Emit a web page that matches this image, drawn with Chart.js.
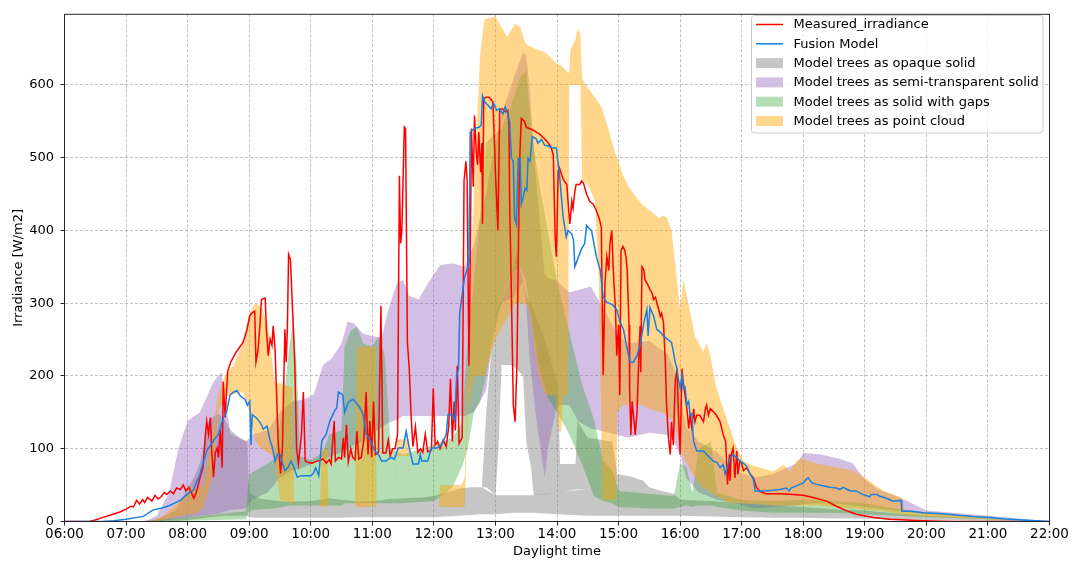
<!DOCTYPE html>
<html>
<head>
<meta charset="utf-8">
<script src="https://cdn.jsdelivr.net/npm/chart.js@4/dist/chart.umd.min.js"></script>
<style>
  html, body { margin: 0; padding: 0; background: #ffffff; }
  canvas { display: block; }
</style>
</head>
<body>
<canvas id="chart" width="1075" height="562"></canvas>
<script>
// Hour ticks along the day (decimal hours) and irradiance ticks
const hourTicks = [6, 7, 8, 9, 10, 11, 12, 13, 14, 15, 16, 17, 18, 19, 20, 21, 22];
const irradianceTicks = [0, 100, 200, 300, 400, 500, 600];

// Measured irradiance [hour, W/m2]
const measured = [
  [6.0,0],[6.4,0],[6.5,2],[6.6,5],[6.75,9],[6.9,13],[7.0,17],[7.08,21],[7.12,20],[7.17,29],[7.22,24],[7.27,30],[7.3,26],
  [7.35,33],[7.42,28],[7.47,36],[7.52,31],[7.57,34],[7.62,40],[7.66,37],[7.72,42],[7.77,38],[7.82,46],[7.88,44],[7.93,50],
  [7.97,42],[8.02,47],[8.07,38],[8.1,32],[8.14,40],[8.2,60],[8.25,74],[8.29,120],[8.31,138],[8.34,120],[8.37,143],[8.39,100],
  [8.42,61],[8.45,95],[8.48,101],[8.5,88],[8.53,127],[8.56,74],[8.58,192],[8.61,143],[8.65,206],[8.7,219],[8.79,233],[8.9,246],
  [8.96,262],[9.01,283],[9.05,287],[9.09,289],[9.11,219],[9.14,233],[9.17,264],[9.2,305],[9.26,307],[9.28,264],[9.31,228],
  [9.34,251],[9.37,242],[9.39,269],[9.42,237],[9.47,111],[9.51,66],[9.54,101],[9.58,264],[9.6,219],[9.62,264],[9.64,367],
  [9.67,360],[9.7,300],[9.74,219],[9.77,101],[9.8,79],[9.85,120],[9.88,178],[9.91,83],[9.96,81],[10.02,80],[10.1,83],[10.16,84],
  [10.2,86],[10.25,80],[10.3,85],[10.33,79],[10.38,138],[10.4,83],[10.45,88],[10.5,86],[10.53,115],[10.55,88],[10.58,133],
  [10.61,82],[10.65,100],[10.68,88],[10.72,85],[10.75,124],[10.78,86],[10.82,88],[10.86,110],[10.9,178],[10.93,92],[10.96,138],
  [10.99,88],[11.02,165],[11.05,92],[11.1,95],[11.14,296],[11.17,94],[11.22,94],[11.26,112],[11.29,90],[11.33,100],[11.37,100],
  [11.41,120],[11.44,475],[11.46,382],[11.48,400],[11.52,542],[11.54,540],[11.57,246],[11.6,210],[11.63,145],[11.66,103],
  [11.7,130],[11.74,95],[11.78,100],[11.82,95],[11.86,120],[11.9,96],[11.96,98],[11.99,183],[12.02,105],[12.06,110],[12.1,100],
  [12.15,112],[12.2,103],[12.24,130],[12.27,196],[12.3,110],[12.33,165],[12.35,125],[12.38,214],[12.41,107],[12.44,112],
  [12.46,115],[12.49,468],[12.52,495],[12.54,470],[12.57,214],[12.59,350],[12.61,540],[12.64,460],[12.66,558],[12.69,505],
  [12.71,490],[12.73,535],[12.76,480],[12.78,520],[12.79,409],[12.81,581],[12.85,583],[12.9,583],[12.93,580],[12.96,576],
  [13.0,480],[13.04,400],[13.07,567],[13.12,567],[13.16,563],[13.2,565],[13.22,545],[13.23,445],[13.26,309],[13.29,160],
  [13.32,137],[13.35,219],[13.37,355],[13.39,490],[13.42,554],[13.47,550],[13.5,542],[13.55,540],[13.61,538],[13.66,535],
  [13.71,533],[13.77,528],[13.8,526],[13.84,522],[13.9,515],[13.94,504],[13.97,391],[13.99,364],[14.02,481],[14.04,486],
  [14.07,478],[14.1,470],[14.16,463],[14.19,427],[14.21,409],[14.24,440],[14.26,430],[14.29,454],[14.31,463],[14.37,463],
  [14.4,468],[14.43,465],[14.48,450],[14.53,440],[14.59,436],[14.64,427],[14.69,415],[14.72,404],[14.75,201],[14.76,201],
  [14.78,328],[14.81,364],[14.84,345],[14.86,382],[14.89,400],[14.91,355],[14.93,320],[14.95,292],[14.97,228],[15.0,270],
  [15.02,174],[15.04,373],[15.07,378],[15.1,373],[15.12,364],[15.14,346],[15.17,270],[15.18,183],[15.2,119],[15.22,165],
  [15.25,140],[15.27,119],[15.3,150],[15.33,228],[15.35,269],[15.36,205],[15.38,350],[15.41,346],[15.43,332],[15.46,328],
  [15.51,319],[15.54,315],[15.57,305],[15.6,308],[15.62,301],[15.65,292],[15.68,282],[15.7,286],[15.73,273],[15.76,218],
  [15.78,160],[15.81,115],[15.84,92],[15.86,137],[15.89,105],[15.92,192],[15.95,210],[15.97,155],[16.0,92],[16.03,210],
  [16.05,192],[16.08,173],[16.11,155],[16.14,128],[16.16,146],[16.19,128],[16.22,155],[16.24,137],[16.27,146],[16.32,146],
  [16.38,137],[16.41,155],[16.43,160],[16.46,146],[16.49,155],[16.54,151],[16.59,146],[16.65,137],[16.7,119],[16.74,110],
  [16.77,51],[16.8,92],[16.81,56],[16.83,92],[16.86,101],[16.89,60],[16.92,97],[16.94,65],[16.97,83],[17.0,80],[17.03,70],
  [17.08,74],[17.14,65],[17.19,60],[17.24,47],[17.3,41],[17.4,38],[17.62,38],[17.84,37],[18.0,36],[18.16,33],[18.38,28],
  [18.54,21],[18.7,15],[18.86,10],[19.14,5.5],[19.4,3],[19.68,2],[19.95,1],[20.2,0.5],[20.5,0],[22.0,0]
];

// Fusion model [hour, W/m2]
const fusion = [
  [6.0,0],[6.6,0],[6.8,1],[7.0,3],[7.28,7],[7.44,16],[7.6,19],[7.71,22],[7.88,29],[8.0,38],[8.09,43],[8.2,65],[8.31,97],
  [8.42,111],[8.5,120],[8.58,142],[8.63,150],[8.69,174],[8.75,178],[8.8,180],[8.86,172],[8.93,168],[8.97,160],[9.01,165],
  [9.03,105],[9.05,147],[9.12,142],[9.18,136],[9.23,127],[9.29,131],[9.34,111],[9.38,101],[9.42,83],[9.46,92],[9.5,92],
  [9.53,83],[9.58,70],[9.63,74],[9.68,83],[9.72,76],[9.78,61],[9.85,63],[10.0,63],[10.04,66],[10.08,74],[10.13,63],[10.18,111],
  [10.25,120],[10.31,138],[10.38,151],[10.42,156],[10.45,178],[10.52,174],[10.55,150],[10.61,164],[10.69,168],[10.75,162],
  [10.8,156],[10.85,147],[10.9,120],[10.97,111],[11.04,97],[11.1,92],[11.15,83],[11.22,83],[11.3,88],[11.36,86],[11.42,101],
  [11.5,101],[11.55,124],[11.6,101],[11.66,79],[11.75,79],[11.78,92],[11.8,83],[11.9,83],[11.96,101],[12.05,101],[12.12,105],
  [12.2,119],[12.23,147],[12.3,147],[12.34,138],[12.37,201],[12.4,210],[12.42,287],[12.5,336],[12.57,355],[12.59,535],
  [12.66,540],[12.74,542],[12.77,545],[12.79,585],[12.83,576],[12.88,572],[12.93,567],[12.97,575],[13.02,565],[13.07,567],
  [13.12,560],[13.16,570],[13.2,560],[13.23,549],[13.26,499],[13.29,495],[13.31,418],[13.34,409],[13.37,499],[13.4,499],
  [13.42,436],[13.45,445],[13.48,458],[13.51,455],[13.53,499],[13.56,495],[13.6,529],[13.66,526],[13.69,520],[13.75,525],
  [13.8,517],[13.86,516],[13.91,514],[13.99,513],[14.04,477],[14.1,418],[14.15,391],[14.18,400],[14.24,395],[14.27,386],
  [14.29,350],[14.35,364],[14.4,375],[14.45,382],[14.48,407],[14.53,402],[14.56,400],[14.64,364],[14.7,346],[14.75,309],
  [14.81,301],[14.9,298],[14.97,291],[15.03,273],[15.08,264],[15.14,237],[15.19,219],[15.24,219],[15.3,228],[15.35,242],
  [15.41,273],[15.46,291],[15.48,255],[15.51,294],[15.57,282],[15.62,264],[15.68,260],[15.73,255],[15.8,250],[15.86,246],
  [15.89,233],[15.92,219],[15.95,210],[15.97,196],[16.0,183],[16.03,201],[16.05,183],[16.08,185],[16.11,160],[16.14,165],
  [16.16,146],[16.19,148],[16.22,110],[16.27,97],[16.38,97],[16.43,92],[16.54,83],[16.6,81],[16.65,74],[16.7,78],[16.73,65],
  [16.81,87],[16.86,92],[16.92,88],[16.97,83],[17.03,80],[17.08,76],[17.14,65],[17.19,58],[17.22,42],[17.35,42],[17.51,43],
  [17.62,44],[17.72,46],[17.77,42],[17.8,46],[17.89,49],[18.0,53],[18.05,58],[18.08,60],[18.14,53],[18.22,51],[18.32,49],
  [18.43,47],[18.54,46],[18.6,44],[18.65,47],[18.76,42],[18.86,42],[18.97,37],[19.08,34],[19.1,37],[19.2,37],[19.24,35],
  [19.35,32],[19.46,28],[19.59,29],[19.6,14],[19.75,14],[19.95,12],[20.22,11],[20.49,9],[20.76,7],[21.03,5.5],[21.3,3.6],
  [21.57,2],[22.0,0]
];

// Model ranges [hour, min, max] in W/m2
const opaqueRange = [
  [7.2,0,0],[7.5,0,3],[7.8,1,15],[8.0,2,45],[8.1,3,60],[8.2,4,80],[8.35,6,140],[8.5,7,148],[8.6,8,140],[8.7,8,125],
  [8.85,8,115],[8.97,8,110],[9.0,6,40],[9.15,5,32],[9.3,5,30],[9.6,5,27],[10.0,5,28],[10.3,5,32],[10.5,5,30],[10.8,6,27],
  [11.0,6,28],[11.3,6,31],[11.5,6,32],[11.8,6,33],[12.0,6,35],[12.2,7,40],[12.4,8,45],[12.6,9,47],[12.78,10,47],[13.0,10,36],
  [13.3,12,36],[13.62,12,36],[14.0,10,40],[14.5,8,45],[14.98,8,65],[15.2,8,62],[15.4,8,56],[15.5,8,47],[15.7,8,42],[15.9,8,38],
  [16.0,8,30],[16.5,7,28],[17.0,6,25],[17.5,5,22],[18.0,5,20],[18.5,4,17],[19.0,4,15],[19.5,3,11],[20.0,2,8],[21.0,1,4],[22.0,0,0]
];
const opaqueRangeMidday = [
  [12.78,47,47],[12.85,47,150],[12.95,40,250],[13.0,36,283],[13.05,100,296],[13.1,215,301],[13.25,215,336],[13.34,210,368],
  [13.45,200,330],[13.5,110,310],[13.58,74,300],[13.62,36,290],[13.8,37,250],[14.0,40,192],[14.02,40,174],[14.05,40,79],
  [14.3,44,79],[14.33,44,138],[14.5,45,115],[14.9,62,110],[14.98,65,65]
];
const semiTransparentRange = [
  [7.3,0,0],[7.5,0,8],[7.7,2,40],[7.85,4,100],[8.0,6,138],[8.2,8,150],[8.42,10,192],[8.55,12,205],[8.62,14,160],[8.7,16,120],
  [8.95,18,110],[9.05,30,120],[9.3,40,125],[9.5,60,150],[9.7,70,165],[9.9,75,168],[10.05,80,175],[10.2,85,215],[10.35,90,225],
  [10.5,95,245],[10.6,100,275],[10.7,105,272],[10.85,110,258],[11.0,120,255],[11.15,130,252],[11.25,135,288],[11.4,140,328],
  [11.5,145,332],[11.6,145,310],[11.75,145,305],[11.85,145,320],[12.0,145,340],[12.1,145,352],[12.3,145,355],[12.5,145,350],
  [12.65,150,380],[12.85,180,450],[13.0,280,520],[13.1,300,560],[13.3,310,610],[13.45,330,645],[13.5,300,640],[13.55,230,600],
  [13.65,150,480],[13.8,60,340],[13.85,100,335],[14.0,160,330],[14.2,160,315],[14.35,137,318],[14.55,128,323],[14.7,125,300],
  [15.0,119,255],[15.15,115,245],[15.5,122,248],[15.8,119,230],[15.9,110,210],[16.0,92,175],[16.1,60,130],[16.3,40,110],
  [16.6,30,95],[16.9,25,70],[17.2,18,60],[17.5,20,65],[17.9,22,80],[18.0,24,94],[18.3,25,92],[18.6,24,86],[18.8,22,80],
  [19.0,20,58],[19.2,18,45],[19.6,14,32],[20.0,10,15],[21.0,5,8],[22.0,0,0]
];
const gapsRange = [
  [7.3,0,0],[7.6,0,3],[8.0,1,6],[8.5,2,10],[8.95,3,14],[9.0,15,65],[9.2,17,75],[9.4,18,85],[9.55,20,160],[9.65,22,240],
  [9.72,22,278],[9.78,22,200],[9.82,22,90],[10.0,22,85],[10.2,22,95],[10.3,22,120],[10.5,22,125],[10.55,25,240],[10.65,25,262],
  [10.75,25,268],[10.85,25,245],[11.0,25,240],[11.1,25,255],[11.2,25,230],[11.3,25,100],[11.5,25,92],[12.0,28,105],
  [12.2,40,112],[12.3,47,115],[12.45,74,135],[12.55,100,250],[12.65,150,330],[12.75,165,420],[12.85,200,520],[12.95,250,530],
  [13.1,300,540],[13.25,340,570],[13.4,350,610],[13.5,330,620],[13.58,280,540],[13.7,220,470],[13.85,170,400],[14.0,150,330],
  [14.2,120,260],[14.4,80,190],[14.6,35,140],[14.75,28,83],[14.9,25,70],[15.0,20,42],[15.5,18,38],[15.9,18,35],[16.0,20,80],
  [16.1,22,75],[16.2,20,40],[16.3,22,100],[16.5,22,110],[16.6,20,40],[17.0,15,30],[17.5,12,28],[18.0,12,30],[18.5,12,28],
  [19.0,10,25],[19.5,8,18],[20.0,6,12],[21.0,3,6],[22.0,0,0]
];
const pointCloudRange = [
  [7.4,0,0],[7.6,2,8],[7.9,8,30],[8.05,10,48],[8.15,12,45],[8.25,18,50],[8.4,60,120],[8.5,150,175],[8.6,172,200],
  [8.75,175,215],[8.9,178,245],[9.0,150,285],[9.1,110,300],[9.2,100,295],[9.3,95,270],[9.38,90,215],[9.42,80,190],[9.5,30,190],
  [9.7,25,185],[9.73,22,22],[10.15,22,22],[10.17,20,100],[10.27,20,100],[10.29,22,22],[10.72,22,22],[10.75,20,240],
  [11.05,20,240],[11.07,22,22],[11.38,22,22],[11.4,90,113],[11.6,90,113],[11.62,22,22],[12.08,22,22],[12.1,20,50],
  [12.45,20,50],[12.5,20,60],[12.55,150,200],[12.65,200,450],[12.75,200,640],[12.82,200,690],[13.0,250,694],[13.19,280,666],
  [13.32,300,684],[13.4,300,680],[13.49,300,657],[13.55,290,653],[13.7,200,648],[13.82,174,644],[13.98,174,630],[14.03,124,628],
  [14.07,124,626],[14.1,174,624],[14.18,174,617],[14.2,600,617],[14.22,600,649],[14.3,600,662],[14.33,600,677],[14.38,600,670],
  [14.41,470,608],[14.52,460,594],[14.62,440,582],[14.68,330,575],[14.74,30,566],[14.85,30,535],[14.96,30,503],[14.98,150,500],
  [15.07,160,476],[15.18,160,458],[15.39,160,435],[15.5,155,428],[15.66,150,417],[15.72,150,420],[15.78,145,418],[15.86,140,400],
  [15.92,130,355],[16.0,100,291],[16.05,90,332],[16.11,80,310],[16.24,60,255],[16.38,45,233],[16.43,45,246],[16.49,40,228],
  [16.59,35,183],[16.7,30,155],[16.81,25,128],[16.92,25,101],[17.03,25,83],[17.14,24,78],[17.3,24,74],[17.51,22,69],
  [17.68,22,78],[17.78,22,69],[17.89,22,83],[17.97,22,87],[18.2,22,80],[18.5,20,75],[18.8,18,70],[19.0,16,60],[19.3,14,42],
  [19.6,10,33],[19.65,9,16],[20.0,7,12],[21.0,3,6],[22.0,0,0]
];

const FONT = { family: 'DejaVu Sans', size: 13 };
const C_GRAY = 'rgba(128,128,128,0.45)';
const C_PURPLE = 'rgba(148,103,189,0.42)';
const C_GREEN = 'rgba(44,160,44,0.35)';
const C_ORANGE = 'rgba(255,165,0,0.45)';
const C_RED = '#ff0000';
const C_BLUE = '#1a7fe0';

const legendEntries = [
  { label: 'Measured_irradiance', kind: 'line', color: C_RED },
  { label: 'Fusion Model', kind: 'line', color: C_BLUE },
  { label: 'Model trees as opaque solid', kind: 'patch', color: C_GRAY },
  { label: 'Model trees as semi-transparent solid', kind: 'patch', color: C_PURPLE },
  { label: 'Model trees as solid with gaps', kind: 'patch', color: C_GREEN },
  { label: 'Model trees as point cloud', kind: 'patch', color: C_ORANGE }
];

// A min/max range becomes two datasets: the lower edge and an upper edge filled down to it
function rangeDatasets(rows, color, order) {
  const base = { borderColor: 'transparent', borderWidth: 0, pointRadius: 0, tension: 0, order };
  return [
    Object.assign({ data: rows.map(r => ({ x: r[0], y: r[1] })), fill: false }, base),
    Object.assign({ data: rows.map(r => ({ x: r[0], y: r[2] })), fill: '-1', backgroundColor: color }, base)
  ];
}
function lineDataset(rows, color, order) {
  return { data: rows.map(r => ({ x: r[0], y: r[1] })), borderColor: color, borderWidth: 1.5,
           pointRadius: 0, tension: 0, fill: false, order };
}

const datasets = [].concat(
  rangeDatasets(opaqueRange, C_GRAY, 40),
  rangeDatasets(opaqueRangeMidday, C_GRAY, 40),
  rangeDatasets(semiTransparentRange, C_PURPLE, 30),
  rangeDatasets(gapsRange, C_GREEN, 20),
  rangeDatasets(pointCloudRange, C_ORANGE, 10),
  [lineDataset(measured, C_RED, 2), lineDataset(fusion, C_BLUE, 1)]
);

// Axes frame and the legend box inside the plot area
const frameAndLegend = {
  id: 'frameAndLegend',
  afterDraw(chart) {
    const { ctx, chartArea: a } = chart;
    ctx.save();
    ctx.strokeStyle = '#262626';
    ctx.lineWidth = 1;
    ctx.strokeRect(a.left, a.top, a.right - a.left, a.bottom - a.top);

    const bx = 751.5, by = 15.5, bw = 291.5, bh = 117.5, r = 3;
    ctx.beginPath();
    ctx.moveTo(bx + r, by);
    ctx.arcTo(bx + bw, by, bx + bw, by + bh, r);
    ctx.arcTo(bx + bw, by + bh, bx, by + bh, r);
    ctx.arcTo(bx, by + bh, bx, by, r);
    ctx.arcTo(bx, by, bx + bw, by, r);
    ctx.closePath();
    ctx.fillStyle = 'rgba(255,255,255,0.8)';
    ctx.fill();
    ctx.strokeStyle = '#cccccc';
    ctx.stroke();

    ctx.font = FONT.size + 'px "' + FONT.family + '"';
    ctx.textBaseline = 'middle';
    ctx.textAlign = 'left';
    legendEntries.forEach((e, i) => {
      const y = 24.5 + i * 19.3;
      if (e.kind === 'line') {
        ctx.strokeStyle = e.color;
        ctx.lineWidth = 1.5;
        ctx.beginPath();
        ctx.moveTo(756, y);
        ctx.lineTo(783, y);
        ctx.stroke();
      } else {
        ctx.fillStyle = e.color;
        ctx.fillRect(756, y - 5, 27, 10);
      }
      ctx.fillStyle = '#000000';
      ctx.fillText(e.label, 793.5, y + 0.5);
    });
    ctx.restore();
  }
};

new Chart(document.getElementById('chart'), {
  type: 'line',
  data: { datasets },
  options: {
    responsive: false,
    animation: false,
    devicePixelRatio: 1,
    layout: { padding: { top: 8, right: 25.5, bottom: 0, left: 0 } },
    plugins: { legend: { display: false }, tooltip: { enabled: false } },
    scales: {
      x: {
        type: 'linear',
        min: hourTicks[0],
        max: hourTicks[hourTicks.length - 1],
        afterBuildTicks: s => { s.ticks = hourTicks.map(v => ({ value: v })); },
        ticks: {
          autoSkip: false, maxRotation: 0, font: { family: 'DejaVu Sans', size: 13.5 }, color: '#000000', padding: 1,
          callback: v => (v < 10 ? '0' : '') + v + ':00'
        },
        grid: { color: '#b0b0b0', lineWidth: 0.8, tickColor: '#262626', tickLength: 4, tickWidth: 1 },
        border: { display: false, dash: [3, 2] },
        title: { display: true, text: 'Daylight time', font: FONT, color: '#000000', padding: { top: 0, bottom: 3 } },
        afterFit: s => { s.height = 40.5; }
      },
      y: {
        min: 0,
        max: 697,
        afterBuildTicks: s => { s.ticks = irradianceTicks.map(v => ({ value: v })); },
        ticks: { autoSkip: false, font: FONT, color: '#000000', padding: 6.5, callback: v => String(v) },
        grid: { color: '#b0b0b0', lineWidth: 0.8, tickColor: '#262626', tickLength: 4, tickWidth: 1 },
        border: { display: false, dash: [3, 2] },
        title: { display: true, text: 'Irradiance [W/m2]', font: FONT, color: '#000000', padding: { top: 10.7, bottom: 0 } },
        afterFit: s => { s.width = 64.5; }
      }
    }
  },
  plugins: [frameAndLegend]
});
</script>
</body>
</html>
